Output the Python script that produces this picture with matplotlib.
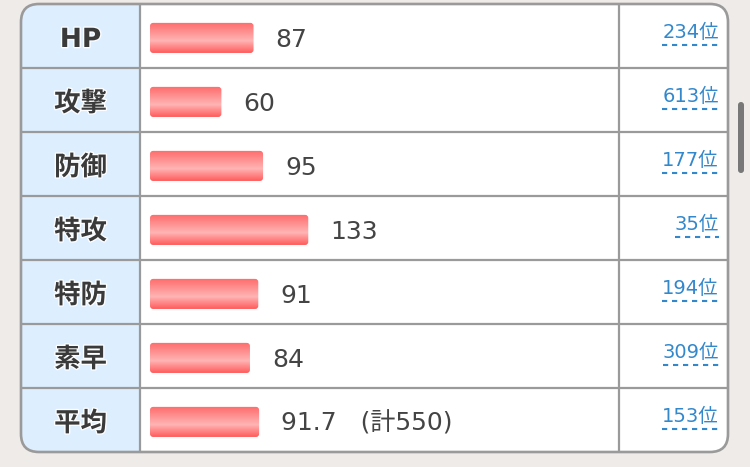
import matplotlib
matplotlib.use("Agg")
import matplotlib.pyplot as plt
import numpy as np
from matplotlib.patches import FancyBboxPatch, Rectangle
import matplotlib.patheffects as pe
from matplotlib.colors import LinearSegmentedColormap

plt.rcParams['font.family'] = ['DejaVu Sans', 'Noto Sans CJK JP']

# ---- data ----
stat_labels = ["HP", "攻撃", "防御", "特攻", "特防", "素早", "平均"]
stat_values = [87, 60, 95, 133, 91, 84, 91.7]
value_labels = ["87", "60", "95", "133", "91", "84", "91.7   (計550)"]
rank_labels = ["234位", "613位", "177位", "35位", "194位", "309位", "153位"]

W, H = 750, 467
fig = plt.figure(figsize=(W / 100, H / 100), dpi=100)
fig.patch.set_facecolor("#eeebe8")

ax = fig.add_axes([0, 0, 1, 1])
ax.set_xlim(0, W)
ax.set_ylim(H, 0)
ax.axis("off")

# table geometry (pixels)
tx0, tx1 = 21, 728
ty0, ty1 = 4, 452
col1, col2 = 140, 619
nrows = len(stat_labels)
rh = (ty1 - ty0) / nrows
border = "#9a9a9a"

frame = FancyBboxPatch((tx0, ty0), tx1 - tx0, ty1 - ty0,
                       boxstyle="round,pad=0,rounding_size=18",
                       facecolor="white", edgecolor="none", zorder=1)
ax.add_patch(frame)
left = Rectangle((tx0, ty0), col1 - tx0, ty1 - ty0, facecolor="#ddeeff",
                 edgecolor="none", zorder=1.5)
ax.add_patch(left)
left.set_clip_path(frame)

for i in range(1, nrows):
    y = ty0 + i * rh
    ax.plot([tx0, tx1], [y, y], color=border, lw=1.6, zorder=3,
            solid_capstyle="butt")
for x in (col1, col2):
    ax.plot([x, x], [ty0, ty1], color=border, lw=1.6, zorder=3,
            solid_capstyle="butt")
outline = FancyBboxPatch((tx0, ty0), tx1 - tx0, ty1 - ty0,
                         boxstyle="round,pad=0,rounding_size=18",
                         facecolor="none", edgecolor=border, lw=1.9, zorder=4)
ax.add_patch(outline)

# scrollbar
ax.add_patch(FancyBboxPatch((738, 102), 6, 71,
                            boxstyle="round,pad=0,rounding_size=3",
                            facecolor="#787878", edgecolor="none", zorder=2))

# labels
for i, lab in enumerate(stat_labels):
    yc = ty0 + (i + 0.5) * rh
    ax.text((tx0 + col1) / 2, yc + 4, lab, ha="center", va="center",
            fontsize=19, fontweight="bold", color="#3a3a3a", zorder=5,
            path_effects=[pe.withStroke(linewidth=2, foreground="white",
                                        alpha=0.9)])

# ranks with dashed underline
rank_texts = []
for i, r in enumerate(rank_labels):
    yc = ty0 + (i + 0.5) * rh
    t = ax.text(719, yc - 3, r, ha="right", va="center", fontsize=14,
                color="#3388cc", zorder=5)
    rank_texts.append((t, yc))

# bars
bx = fig.add_axes([150 / W, (H - ty1) / H, (col2 - 150) / W, (ty1 - ty0) / H])
bx.axis("off")
bx.patch.set_alpha(0)

cmap = LinearSegmentedColormap.from_list(
    "bar", [(0, "#ff6a6a"), (0.6, "#ffb4b4"), (1, "#ff5c5c")])
grad = np.linspace(0, 1, 64).reshape(-1, 1)
ypos = np.arange(nrows) + 0.03
bars = bx.barh(ypos, stat_values, height=0.47, color="none", edgecolor="none")
xmax = (col2 - 150) / 1.19
for b in bars:
    x0, y0 = b.get_x(), b.get_y()
    w, h = b.get_width(), b.get_height()
    rp = FancyBboxPatch((x0, y0), w, h,
                        boxstyle="round,pad=0,rounding_size=2.6",
                        mutation_aspect=(nrows / (ty1 - ty0)) / (1 / 1.19),
                        transform=bx.transData,
                        facecolor="none", edgecolor="none")
    bx.add_patch(rp)
    im = bx.imshow(grad, extent=(x0, x0 + w, y0 + h, y0), cmap=cmap,
                   aspect="auto", interpolation="bilinear", zorder=2)
    im.set_clip_path(rp)
bx.set_xlim(0, xmax)
bx.set_ylim(nrows - 0.5, -0.5)

for i, (v, s) in enumerate(zip(stat_values, value_labels)):
    bx.annotate(s, (v, i), xytext=(22, -3.5), textcoords="offset pixels",
                ha="left", va="center", fontsize=18, color="#444444")

fig.canvas.draw()
renderer = fig.canvas.get_renderer()
inv = ax.transData.inverted()
for t, yc in rank_texts:
    bb = t.get_window_extent(renderer)
    (xa, _), (xb, _) = inv.transform([(bb.x0, 0), (bb.x1, 0)])
    ax.plot([xa, xb], [yc + 9, yc + 9], color="#3388cc", lw=1.5,
            dashes=(2.5, 2.3), zorder=5, solid_capstyle="butt")

fig.savefig("out.png", dpi=100, facecolor=fig.get_facecolor())
